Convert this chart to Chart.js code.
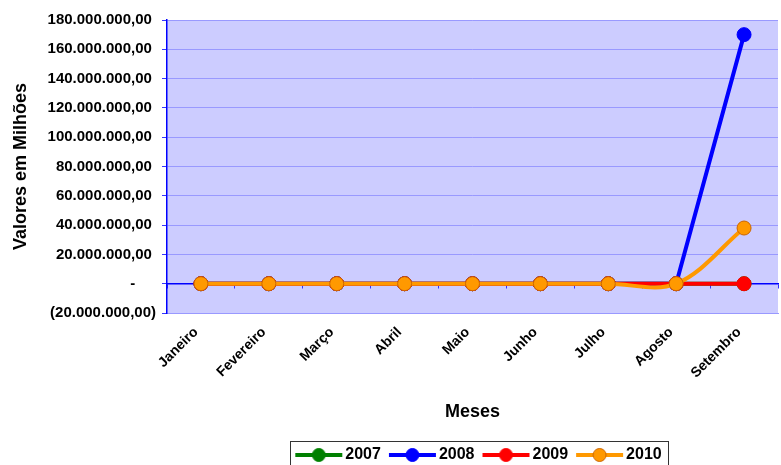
<!DOCTYPE html>
<html>
<head>
<meta charset="utf-8">
<script src="https://cdn.jsdelivr.net/npm/chart.js@4.4.1/dist/chart.umd.min.js"></script>
<style>
  html, body { margin: 0; padding: 0; background: #fff; overflow: hidden; }
  #wrap { width: 781px; height: 465px; overflow: hidden; position: relative; }
  #chart { position: absolute; left: 0; top: 0; }
</style>
</head>
<body>
<div id="wrap">
  <canvas id="chart" width="786" height="473"></canvas>
</div>
<script>
// dados
const meses = ["Janeiro", "Fevereiro", "Março", "Abril", "Maio", "Junho", "Julho", "Agosto", "Setembro"];
const anos = ["2007", "2008", "2009", "2010"];
const valores2007 = [0, 0, 0, 0, 0, 0, 0, 0, 0];
const valores2008 = [0, 0, 0, 0, 0, 0, 0, 0, 170000000];
const valores2009 = [0, 0, 0, 0, 0, 0, 0, 0, 0];
const valores2010 = [0, 0, 0, 0, 0, 0, 0, 0, 38000000];
const yMin = -20000000;
const yMax = 180000000;
const yStep = 20000000;

const cores = ["#008000", "#0000ff", "#ff0000", "#ff9900"];
const bordasPonto = ["#008000", "#0000ff", "#ff0000", "#cc6600"];

Chart.defaults.font.family = "'Liberation Sans', Arial, sans-serif";
Chart.defaults.color = "#000";

// formato contábil tipo Excel
function formatarValor(v) {
  if (v === 0) return "-     ";
  const abs = Math.abs(v).toFixed(2).split(".");
  const inteiro = abs[0].replace(/\B(?=(\d{3})+(?!\d))/g, ".");
  const txt = inteiro + "," + abs[1];
  return v < 0 ? "(" + txt + ")" : txt + " ";
}

// ícone da legenda: linha com marcador
function iconeLegenda(cor, borda) {
  const c = document.createElement("canvas");
  c.width = 56; c.height = 16;
  const g = c.getContext("2d");
  g.strokeStyle = cor;
  g.lineWidth = 4;
  g.beginPath();
  g.moveTo(8, 8);
  g.lineTo(55, 8);
  g.stroke();
  g.beginPath();
  g.arc(31.5, 8, 6.5, 0, Math.PI * 2);
  g.fillStyle = cor;
  g.fill();
  g.lineWidth = 1;
  g.strokeStyle = borda;
  g.stroke();
  return c;
}
const icones = cores.map((c, i) => iconeLegenda(c, bordasPonto[i]));

const fundoPlot = {
  id: "fundoPlot",
  afterUpdate(chart) {
    // empurra a legenda um pouco para a direita, como no original
    const lg = chart.legend;
    if (!lg) return;
    lg.left += 5;
    lg.right += 5;
    lg.adjustHitBoxes();
  },
  beforeDraw(chart) {
    const { ctx, chartArea } = chart;
    ctx.save();
    ctx.fillStyle = "#ccccff";
    ctx.fillRect(chartArea.left, chartArea.top, chartArea.right - chartArea.left, chartArea.bottom - chartArea.top);
    ctx.restore();
  },
  afterDraw(chart) {
    const lg = chart.legend;
    if (!lg || !lg.legendHitBoxes.length) return;
    const hb = lg.legendHitBoxes;
    const ult = hb[hb.length - 1];
    const ctx = chart.ctx;
    ctx.save();
    ctx.strokeStyle = "#333";
    ctx.lineWidth = 1;
    const x0 = Math.round(hb[0].left - 3) + 0.5;
    const x1 = Math.round(ult.left + ult.width + 6) + 0.5;
    const y0 = Math.round(lg.top) + 0.5;
    ctx.strokeRect(x0, y0, x1 - x0, lg.bottom + 10 - y0);
    ctx.restore();
  }
};

const serie = (i, dados, tensao) => ({
  label: anos[i],
  data: dados,
  borderColor: cores[i],
  backgroundColor: cores[i],
  pointBackgroundColor: cores[i],
  pointBorderColor: bordasPonto[i],
  pointBorderWidth: 1,
  borderWidth: 4,
  pointRadius: 7,
  pointHoverRadius: 7,
  tension: tensao,
  order: 3 - i
});

new Chart(document.getElementById("chart"), {
  type: "line",
  data: {
    labels: meses,
    datasets: [
      serie(0, valores2007, 0),
      serie(1, valores2008, 0),
      serie(2, valores2009, 0),
      serie(3, valores2010, 0.35)
    ]
  },
  options: {
    responsive: false,
    animation: false,
    layout: { padding: { top: 20, left: 0, right: 0, bottom: 0 } },
    plugins: {
      tooltip: { enabled: false },
      legend: {
        position: "bottom",
        fullSize: false,
        labels: {
          usePointStyle: true,
          pointStyleWidth: 44,
          padding: 6,
          font: { size: 16, weight: "bold" },
          color: "#000",
          generateLabels(chart) {
            const itens = Chart.defaults.plugins.legend.labels.generateLabels(chart);
            itens.sort((a, b) => a.datasetIndex - b.datasetIndex);
            itens.forEach((it) => { it.pointStyle = icones[it.datasetIndex]; });
            return itens;
          }
        }
      }
    },
    scales: {
      x: {
        type: "category",
        offset: true,
        grid: { display: false, drawTicks: false },
        border: { display: true, color: "#9999ff" },
        ticks: {
          autoSkip: false,
          minRotation: 45,
          maxRotation: 45,
          padding: 11,
          labelOffset: -5,
          font: { size: 14, weight: "bold" },
          color: "#000"
        },
        title: {
          display: true,
          text: "Meses",
          font: { size: 18, weight: "bold" },
          color: "#000",
          padding: { top: 4, bottom: 18 }
        },
        afterFit(scale) { scale.height = 128; }
      },
      x2: {
        type: "category",
        position: { y: 0 },
        offset: true,
        ticks: { display: false },
        grid: { drawOnChartArea: false, drawTicks: true, tickLength: 4, tickColor: "#3333ff", offset: true },
        border: { display: true, color: "#0000ff", width: 1.5 }
      },
      y: {
        min: yMin,
        max: yMax,
        ticks: {
          stepSize: yStep,
          padding: 6,
          font: { size: 15, weight: "bold" },
          color: "#000",
          callback: (v) => formatarValor(v)
        },
        grid: { color: "#9999ff", lineWidth: 1, tickLength: 5, tickColor: "#3333ff" },
        border: { color: "#0000ff", width: 1.5 },
        title: {
          display: true,
          text: "Valores em Milhões",
          font: { size: 18, weight: "bold" },
          color: "#000",
          padding: { top: 10, bottom: 0 }
        },
        afterFit(scale) { scale.width = 167; }
      }
    }
  },
  plugins: [fundoPlot]
});
</script>
</body>
</html>
